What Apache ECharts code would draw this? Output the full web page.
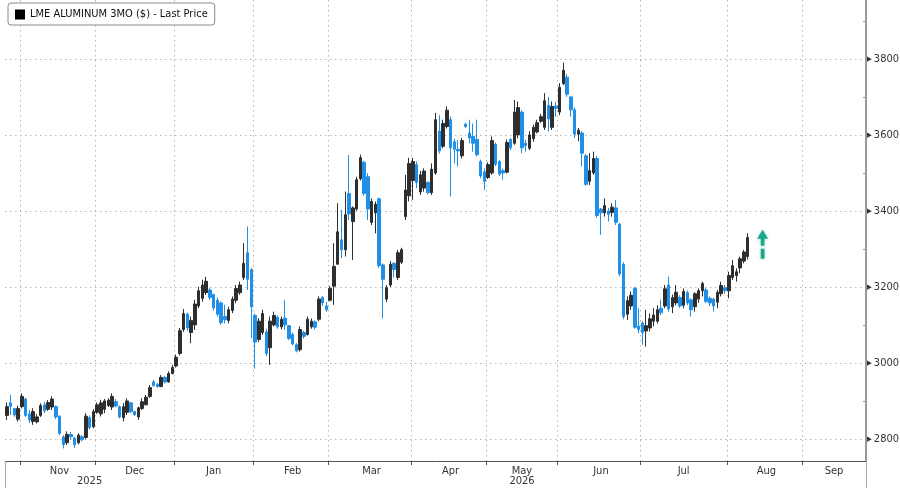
<!DOCTYPE html>
<html>
<head>
<meta charset="utf-8">
<script src="https://cdn.jsdelivr.net/npm/echarts@6/dist/echarts.min.js"></script>
<style>
html,body{margin:0;padding:0;background:#fff;}
#c{width:900px;height:488px;}
</style>
</head>
<body>
<div id="c"></div>
<script>
// ---- axis calendar (LME trading days) ----
const startDate = '2025-10-28';
const endDate = '2026-09-23';
const holidays = ['2025-12-25','2025-12-26','2026-01-01','2026-04-03','2026-04-06','2026-05-04','2026-05-25','2026-08-31'];
const monthNames = ['Jan','Feb','Mar','Apr','May','Jun','Jul','Aug','Sep','Oct','Nov','Dec'];
const seriesName = 'LME ALUMINUM 3MO ($) - Last Price';

// ---- OHLC values, one per trading day from 2025-10-28 ----
const open = [
2862,2895,2880,2852,2885,2905,2866,2846,2845,2862,2890,2878,2884,2885,2860,2805,2790,2812,2802,2790,
2806,2804,2856,2832,2870,2866,2878,2888,2884,2898,2885,2856,2870,2895,2872,2858,2880,2890,2912,2950,
2944,2938,2962,2950,2972,
2992,3025,3088,3128,3080,3100,3150,3170,3185,3192,3180,3165,3158,3122,3112,3138,3165,3185,3225,3290,
3245,3125,3062,3080,3082,3040,3100,3120,3095,3118,3098,3075,3048,3035,3080,3075,3095,3108,3115,3172,
3150,3165,3202,3260,3324,3298,3446,3372,3405,3485,3528,3490,3370,3395,3432,3258,3168,3205,3262,3225,
3265,
3385,3440,3480,3522,3450,3460,3475,3448,3500,3610,3570,3622,3640,3582,3562,3545,3628,3605,3596,3588,
3530,3503,3488,3500,3575,3530,3506,3502,3588,3578,3600,3660,3578,3565,3590,3608,3636,3620,3678,3620,
3676,3660,3735,3752,3700,3666,3602,3605,3545,3478,3500,3538,3405,3395,3400,3396,3408,3365,3260,3128,
3150,3196,3097,3105,3084,3092,3110,3110,3144,3150,3205,3148,3158,3172,3152,3185,3166,3148,3168,3190,
3192,3170,3168,3160,3182,3198,3190,3225,3230,3250,3268,3280];
const close = [
2885,2886,2863,2880,2912,2862,2850,2872,2858,2888,2874,2896,2905,2858,2815,2785,2812,2806,2785,2810,
2798,2860,2830,2872,2890,2895,2900,2902,2912,2887,2858,2885,2900,2872,2864,2882,2898,2910,2935,2940,
2938,2962,2950,2972,2988,
3015,3085,3130,3092,3112,3155,3190,3205,3215,3172,3145,3128,3106,3114,3140,3168,3196,3205,3262,3220,
3148,3055,3110,3130,3025,3110,3125,3095,3115,3100,3064,3050,3032,3088,3070,3115,3110,3094,3168,3158,
3140,3196,3254,3345,3298,3390,3392,3408,3482,3540,3446,3405,3425,3418,3256,3220,3198,3260,3246,3290,
3298,
3455,3525,3530,3475,3495,3505,3448,3510,3640,3558,3630,3665,3566,3562,3558,3585,3622,3592,3578,3548,
3492,3478,3522,3585,3523,3497,3500,3580,3566,3660,3672,3566,3572,3600,3620,3632,3648,3690,3642,3675,
3670,3725,3770,3707,3666,3602,3612,3552,3470,3506,3538,3388,3395,3414,3391,3410,3370,3234,3122,3164,
3178,3094,3088,3080,3098,3116,3126,3140,3132,3195,3142,3172,3186,3150,3188,3158,3140,3182,3190,3209,
3162,3158,3150,3186,3204,3190,3230,3256,3240,3274,3292,3330];
const low = [
2850,2863,2858,2846,2880,2858,2842,2837,2841,2858,2868,2874,2876,2852,2810,2775,2784,2798,2776,2786,
2794,2800,2825,2828,2866,2859,2868,2884,2876,2883,2854,2846,2863,2868,2860,2850,2876,2888,2908,2938,
2935,2936,2946,2948,2970,
2988,3020,3082,3085,3052,3087,3144,3161,3179,3166,3138,3122,3100,3104,3104,3131,3157,3179,3218,3192,
3065,2985,3055,3074,3018,2995,3096,3090,3088,3087,3060,3046,3028,3030,3064,3072,3090,3088,3110,3150,
3135,3162,3153,3258,3276,3280,3376,3271,3400,3480,3440,3376,3363,3341,3250,3117,3160,3200,3225,3218,
3260,
3376,3425,3429,3460,3442,3451,3444,3442,3495,3551,3565,3617,3438,3525,3517,3538,3618,3578,3556,3543,
3486,3455,3484,3495,3518,3492,3482,3499,3560,3574,3591,3552,3556,3560,3582,3604,3632,3613,3609,3613,
3648,3652,3731,3700,3648,3592,3583,3517,3466,3468,3495,3382,3337,3385,3372,3385,3363,3228,3115,3113,
3140,3090,3078,3048,3043,3083,3096,3104,3126,3144,3135,3131,3152,3145,3144,3152,3122,3135,3158,3175,
3158,3150,3135,3144,3175,3182,3170,3218,3214,3236,3262,3272];
const high = [
2896,2916,2882,2888,2920,2908,2876,2881,2865,2894,2898,2902,2912,2888,2862,2810,2820,2818,2806,2815,
2810,2868,2862,2878,2896,2903,2905,2907,2920,2905,2888,2894,2907,2897,2874,2885,2907,2916,2942,2955,
2947,2968,2966,2978,2995,
3022,3092,3142,3132,3122,3166,3201,3219,3227,3198,3182,3172,3162,3153,3148,3175,3205,3214,3315,3359,
3250,3130,3118,3140,3090,3122,3135,3125,3122,3166,3100,3080,3052,3096,3085,3122,3117,3112,3175,3176,
3160,3202,3315,3420,3403,3451,3547,3412,3490,3548,3532,3499,3433,3425,3435,3262,3205,3268,3265,3297,
3303,
3495,3540,3540,3530,3505,3512,3478,3525,3658,3652,3640,3675,3648,3590,3587,3592,3632,3640,3630,3640,
3535,3512,3528,3596,3580,3533,3512,3588,3592,3692,3688,3665,3587,3610,3627,3640,3655,3710,3700,3688,
3687,3736,3790,3760,3702,3672,3618,3610,3550,3552,3556,3545,3408,3433,3408,3420,3429,3368,3265,3175,
3188,3200,3144,3110,3140,3130,3144,3152,3166,3205,3227,3180,3205,3178,3196,3190,3170,3186,3196,3214,
3198,3175,3172,3192,3214,3205,3240,3271,3249,3280,3297,3341];

// last-price arrow marker
const arrowDayIndex = 201;
const arrowValue = 3312;

// ---- build calendar ----
function ymd(d){return d.toISOString().slice(0,10);}
const categories = [];
for (let d = new Date(startDate + 'T00:00:00Z'); ymd(d) <= endDate; d.setUTCDate(d.getUTCDate()+1)) {
  const wd = d.getUTCDay();
  const s = ymd(d);
  if (wd !== 0 && wd !== 6 && holidays.indexOf(s) < 0) categories.push(s);
}
const mon = s => +s.slice(5,7);
const yr = s => s.slice(0,4);
const monthKey = s => s.slice(0,7);
function isMonthStart(i){ return i > 0 && monthKey(categories[i]) !== monthKey(categories[i-1]); }
function isYearStart(i){ return i > 0 && yr(categories[i]) !== yr(categories[i-1]); }
function midIndexes(keyFn, skipFirst){
  const span = {}, order = [];
  categories.forEach((c,i)=>{const k=keyFn(c); if(!span[k]){span[k]=[i,i]; order.push(k);} span[k][1]=i;});
  const out = {};
  order.forEach((k,n)=>{ if(skipFirst && n===0) return; out[Math.floor((span[k][0]+span[k][1]+1)/2)] = k; });
  return out;
}
const monthMid = midIndexes(monthKey, true);
const yearMid = midIndexes(yr, false);

const candles = open.map((o,i)=>[o, close[i], low[i], high[i]]);

const FONT = '"DejaVu Sans Condensed","DejaVu Sans",sans-serif';
const arrowPath = 'path://M6,0L12,9L8,9L8,16L4,16L4,9L0,9Z M4,19L8,19L8,29L4,29Z';

const chart = echarts.init(document.getElementById('c'));
chart.setOption({
  animation:false,
  backgroundColor:'#fff',
  textStyle:{fontFamily:FONT},
  legend:{
    left:8, top:3,
    padding:[6,7,5,7],
    borderColor:'#8a8a8a', borderWidth:1, borderRadius:3,
    backgroundColor:'#fff',
    itemWidth:10, itemHeight:10, itemGap:4,
    textStyle:{fontSize:11, color:'#111', fontFamily:FONT},
    data:[{name:seriesName, icon:'rect', itemStyle:{color:'#000', borderWidth:0}}]
  },
  grid:{left:5, right:34, top:0, bottom:27, containLabel:false, outerBoundsMode:'none'},
  xAxis:[{
    type:'category', data:categories, boundaryGap:true, position:'bottom',
    axisLine:{show:true, lineStyle:{color:'#555', width:1}},
    axisTick:{show:true, interval:(i)=>isMonthStart(i), length:4, lineStyle:{color:'#555'}},
    axisLabel:{interval:(i)=>monthMid[i]!==undefined, formatter:(v)=>monthNames[mon(v)-1], color:'#333', fontSize:11, margin:5, fontFamily:FONT},
    splitLine:{show:true, interval:(i)=>isMonthStart(i), lineStyle:{color:'#b5b5b5', type:[1.5,3.5], width:1}}
  },{
    type:'category', data:categories, boundaryGap:true, position:'bottom',
    axisLine:{show:false},
    axisTick:{show:true, interval:(i)=>isYearStart(i), length:27, lineStyle:{color:'#aaa'}},
    axisLabel:{interval:(i)=>yearMid[i]!==undefined, formatter:(v)=>yr(v), color:'#333', fontSize:11, margin:15, fontFamily:FONT},
    splitLine:{show:false}
  }],
  yAxis:{
    type:'value', position:'right', min:2742, max:3955, minInterval:200, maxInterval:200, scale:true,
    axisLine:{show:true, lineStyle:{color:'#999', width:2}},
    axisTick:{show:false, inside:true},
    minorTick:{show:true, splitNumber:2, length:3, lineStyle:{color:'#999'}},
    axisLabel:{color:'#333', fontSize:11, margin:1, showMinLabel:false, showMaxLabel:false, fontFamily:FONT,
      formatter:(v)=>'{t|▶}' + v,
      rich:{t:{fontSize:7, color:'#333', padding:[0,2,0,0]}}},
    splitLine:{show:true, showMinLine:false, showMaxLine:false, lineStyle:{color:'#b5b5b5', type:[1.5,3.5], width:1}}
  },
  series:[{
    name:seriesName, type:'candlestick', xAxisIndex:0, data:candles, barWidth:3,
    itemStyle:{color:'#2e2e2e', color0:'#1f8fe8', borderColor:'#2e2e2e', borderColor0:'#1f8fe8', borderWidth:1},
    markPoint:{
      silent:true, animation:false, label:{show:false},
      data:[{coord:[categories[arrowDayIndex], arrowValue], symbol:arrowPath, symbolSize:[11,29],
        itemStyle:{color:'#1aa88a', shadowColor:'rgba(26,168,138,0.45)', shadowBlur:3}}]
    }
  }]
});
</script>
</body>
</html>
